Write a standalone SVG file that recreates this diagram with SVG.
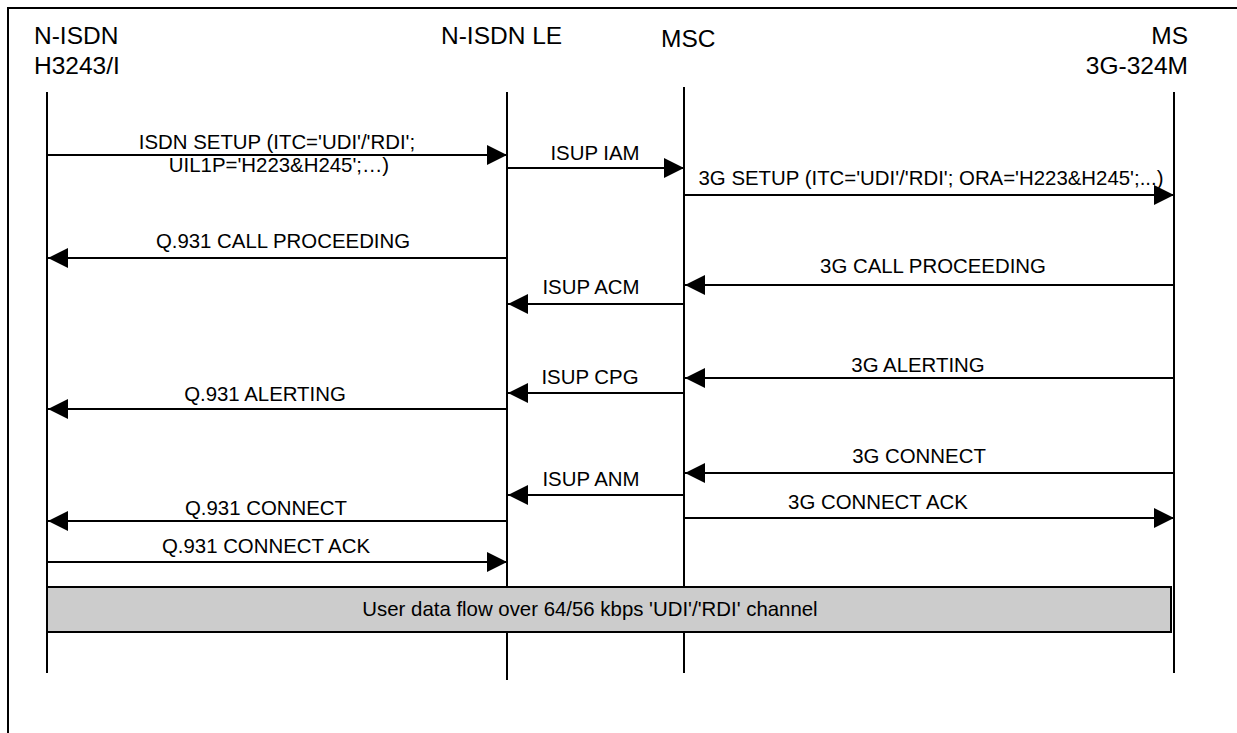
<svg xmlns="http://www.w3.org/2000/svg" width="1237" height="733" viewBox="0 0 1237 733">
  <style>
    .frame { fill: none; stroke: #000; stroke-width: 2; }
    .life { stroke: #000; stroke-width: 2; }
    .msg { stroke: #000; stroke-width: 2; fill: none; marker-end: url(#arrow); }
    .hdr { font-family: "Liberation Sans", Arial, sans-serif; font-size: 24.5px; fill: #000; }
    .lbl { font-family: "Liberation Sans", Arial, sans-serif; font-size: 20.4px; fill: #000; text-anchor: middle; }
    .flow { fill: #cccccc; stroke: #000; stroke-width: 2; }
  </style>
  <defs>
    <marker id="arrow" viewBox="0 0 20 20" refX="20" refY="10" markerWidth="20" markerHeight="20" markerUnits="userSpaceOnUse" orient="auto">
      <path d="M0,0 L20,10 L0,20 Z" fill="#000"/>
    </marker>
  </defs>

  <rect width="1237" height="733" fill="#fff"/>
  <!-- outer frame: top and left edges -->
  <path class="frame" d="M8,740 L8,8 L1240,8"/>

  <!-- participants -->
  <g id="terminal">
    <text class="hdr" x="34" y="44">N-ISDN</text>
    <text class="hdr" x="34" y="74">H3243/I</text>
    <line class="life" x1="47" y1="92" x2="47" y2="673"/>
  </g>
  <g id="local-exchange">
    <text class="hdr" x="441" y="44">N-ISDN LE</text>
    <line class="life" x1="507" y1="92" x2="507" y2="680"/>
  </g>
  <g id="msc">
    <text class="hdr" x="661" y="47">MSC</text>
    <line class="life" x1="684" y1="87" x2="684" y2="673"/>
  </g>
  <g id="ms">
    <text class="hdr" x="1188" y="44" text-anchor="end">MS</text>
    <text class="hdr" x="1188" y="74" text-anchor="end">3G-324M</text>
    <line class="life" x1="1174" y1="92" x2="1174" y2="673"/>
  </g>

  <!-- messages -->
  <g id="connectors">
    <line class="msg" x1="48" y1="155" x2="507" y2="155"/>
    <text class="lbl" x="277" y="149">ISDN SETUP (ITC='UDI'/'RDI';</text>
    <text class="lbl" x="279" y="172">UIL1P='H223&amp;H245';…)</text>

    <line class="msg" x1="507" y1="168" x2="684" y2="168"/>
    <text class="lbl" x="595" y="160">ISUP IAM</text>

    <line class="msg" x1="684" y1="195" x2="1174" y2="195"/>
    <text class="lbl" x="931" y="185">3G SETUP (ITC='UDI'/'RDI'; ORA='H223&amp;H245';...)</text>

    <line class="msg" x1="507" y1="258" x2="48" y2="258"/>
    <text class="lbl" x="283" y="248">Q.931 CALL PROCEEDING</text>

    <line class="msg" x1="1174" y1="285" x2="685" y2="285"/>
    <text class="lbl" x="933" y="273">3G CALL PROCEEDING</text>

    <line class="msg" x1="684" y1="304" x2="508" y2="304"/>
    <text class="lbl" x="591" y="294">ISUP ACM</text>

    <line class="msg" x1="1174" y1="378" x2="685" y2="378"/>
    <text class="lbl" x="918" y="372">3G ALERTING</text>

    <line class="msg" x1="684" y1="393" x2="508" y2="393"/>
    <text class="lbl" x="590" y="384">ISUP CPG</text>

    <line class="msg" x1="507" y1="409" x2="48" y2="409"/>
    <text class="lbl" x="265" y="401">Q.931 ALERTING</text>

    <line class="msg" x1="1174" y1="473" x2="685" y2="473"/>
    <text class="lbl" x="919" y="463">3G CONNECT</text>

    <line class="msg" x1="684" y1="495" x2="508" y2="495"/>
    <text class="lbl" x="591" y="486">ISUP ANM</text>

    <line class="msg" x1="684" y1="518" x2="1174" y2="518"/>
    <text class="lbl" x="878" y="509">3G CONNECT ACK</text>

    <line class="msg" x1="507" y1="521" x2="48" y2="521"/>
    <text class="lbl" x="266" y="515">Q.931 CONNECT</text>

    <line class="msg" x1="48" y1="562" x2="507" y2="562"/>
    <text class="lbl" x="266" y="553">Q.931 CONNECT ACK</text>
  </g>

  <!-- bearer channel bar -->
  <g id="user-data-flow">
    <rect class="flow" x="47" y="587" width="1124" height="45"/>
    <text class="lbl" x="590" y="616">User data flow over 64/56 kbps 'UDI'/'RDI' channel</text>
  </g>
</svg>
